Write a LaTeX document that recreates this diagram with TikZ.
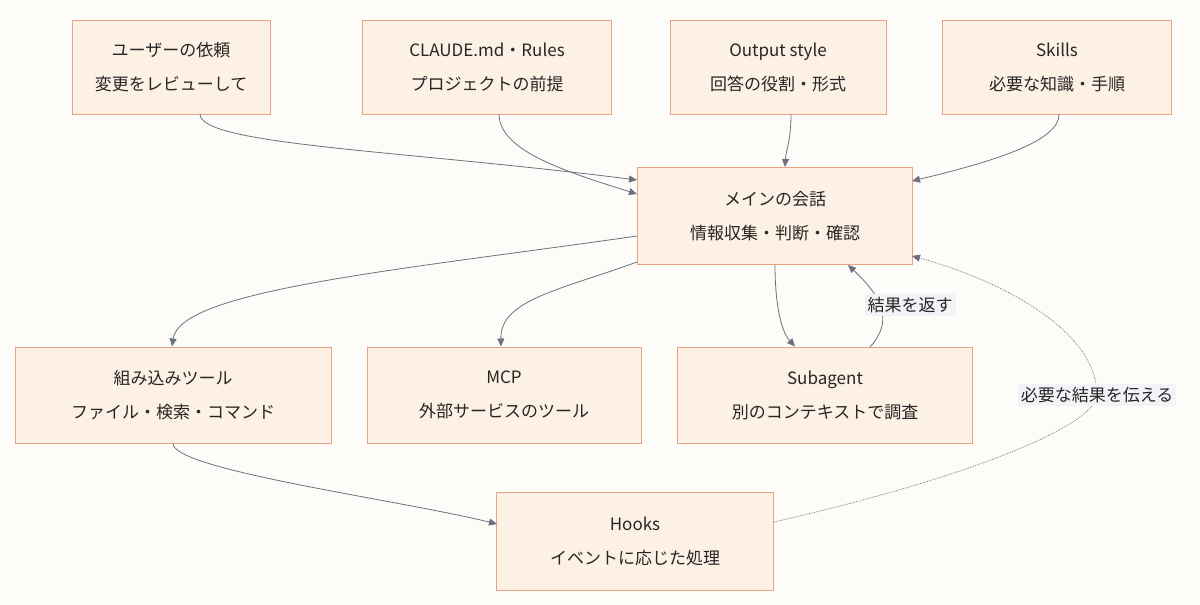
\documentclass[tikz,border=0pt]{standalone}
\usepackage{fontspec}
\setmainfont{Noto Sans CJK JP}
\usetikzlibrary{arrows.meta}
\definecolor{bg}{HTML}{FDFCF9}
\definecolor{bx}{HTML}{FDF0E4}
\definecolor{bd}{HTML}{E9A384}
\definecolor{ln}{HTML}{6B7280}
\definecolor{lb}{HTML}{F1F3F6}
\begin{document}
\begin{tikzpicture}[x=1pt,y=-1pt,
 box/.style={draw=bd,fill=bx,line width=1pt,align=center,font=\fontsize{17}{34}\selectfont,text=black!85,inner sep=0pt},
 ar/.style={draw=ln,line width=0.8pt,-{Triangle[length=8pt,width=7pt]}},
 lab/.style={fill=lb,font=\fontsize{17}{20}\selectfont,text=black!85,inner sep=3pt}]
\path[fill=bg] (0,0) rectangle (1200,605);
\useasboundingbox (0,0) rectangle (1200,605);
\node[box,minimum width=198,minimum height=94] (a) at (171,67) {ユーザーの依頼\\変更をレビューして};
\node[box,minimum width=249,minimum height=94] (b) at (487,67) {CLAUDE.md・Rules\\プロジェクトの前提};
\node[box,minimum width=216,minimum height=94] (c) at (778,67) {Output style\\回答の役割・形式};
\node[box,minimum width=229,minimum height=94] (d) at (1057,67) {Skills\\必要な知識・手順};
\node[box,minimum width=275,minimum height=97] (m) at (775,216) {メインの会話\\情報収集・判断・確認};
\node[box,minimum width=316,minimum height=96] (e) at (173,395) {組み込みツール\\ファイル・検索・コマンド};
\node[box,minimum width=274,minimum height=96] (f) at (504,395) {MCP\\外部サービスのツール};
\node[box,minimum width=295,minimum height=96] (g) at (825,395) {Subagent\\別のコンテキストで調査};
\node[box,minimum width=277,minimum height=98] (h) at (635,541) {Hooks\\イベントに応じた処理};
\coordinate (a1) at (200,114); \coordinate (m1) at (637,180);
\draw[ar] (a1) .. controls (200,145) and (400,150) .. (m1);
\draw[ar] ([xshift=12]b.south) .. controls (500,150) and (560,170) .. (637,194);
\draw[ar] ([xshift=13]c.south) .. controls (791,140) and (786,150) .. ([xshift=10]m.north);
\draw[ar] ([xshift=2]d.south) .. controls (1059,140) and (1000,160) .. (912,181);
\draw[ar] (637,236) .. controls (400,270) and (180,290) .. ([xshift=-1]e.north);
\draw[ar] (637,262) .. controls (560,290) and (500,300) .. ([xshift=-3]f.north);
\draw[ar] (775,265) .. controls (775,300) and (780,330) .. ([xshift=-30]g.north);
\draw[ar] (870,347) .. controls (895,320) and (880,295) .. (848,265);
\node[lab] (l1) at (910,305) {結果を返す};
\draw[ar] (e.south) .. controls (173,470) and (400,500) .. (497,524);
\draw[ar,densely dotted,line width=0.7pt] (774,522) .. controls (1000,470) and (1097,420) .. (1097,395)
  .. controls (1097,330) and (1000,280) .. (912,256);
\node[lab] (l2) at (1097,395) {必要な結果を伝える};
\end{tikzpicture}
\end{document}
